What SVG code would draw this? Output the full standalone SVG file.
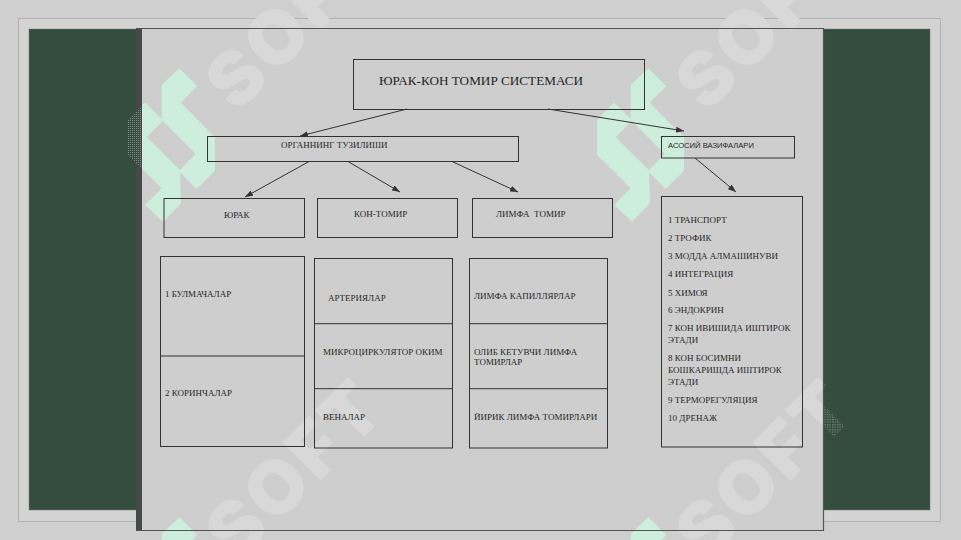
<svg xmlns="http://www.w3.org/2000/svg" width="961" height="540" viewBox="0 0 961 540">
<style>
.box{fill:none;stroke:#333;stroke-width:1}
.t{font-family:"Liberation Serif","Times New Roman",serif;font-size:9px;fill:#262626}
.s{font-family:"Liberation Sans",Arial,sans-serif;font-size:7.6px;fill:#262626}
.big{font-size:13.2px}
.wm{font-family:Inter,"Liberation Sans",sans-serif;font-weight:900;font-size:74px;letter-spacing:4px;fill:#d8d8d8}
.wmd{font-family:Inter,"Liberation Sans",sans-serif;font-weight:900;font-size:74px;letter-spacing:4px;fill:url(#dots2)}
.conn{fill:none;stroke:#333;stroke-width:1;marker-end:url(#arr)}
.logo{fill:#cdeedd;fill-rule:evenodd}
</style>
<defs>
<marker id="arr" viewBox="0 0 8 6" refX="8" refY="3" markerWidth="8" markerHeight="6" markerUnits="userSpaceOnUse" orient="auto"><path d="M0 0L8 3L0 6z" fill="#333"/></marker>
<pattern id="dots" width="2" height="2" patternUnits="userSpaceOnUse"><rect width="1" height="1" fill="#7d8c83"/></pattern>
<pattern id="dots2" width="2.500" height="2.500" patternUnits="userSpaceOnUse" patternTransform="rotate(45)"><rect width="1.200" height="1.200" fill="#7d8c83"/></pattern>
<clipPath id="light"><path clip-rule="evenodd" d="M0 0H961V540H0ZM29 29H142V510H29ZM823 29H930V510H823ZM136 510H142V530H136Z"/></clipPath>
<clipPath id="leftdark"><rect x="100" y="28" width="42" height="502"/></clipPath>
<clipPath id="rightdark"><rect x="823" y="29" width="107" height="481"/></clipPath>
<path id="lg" class="logo" d="M179.3 68.3L197.3 86L180.7 102.7L215 137.3V170.7L196.7 189L180 172.3L181 203.3L163.3 221.7L145 205L161.7 188.3L128 155V120L145 102.3L161.7 119V85ZM162.7 121L146.7 137.3L180 170L195.7 154Z"/>
</defs>
<rect width="961" height="540" fill="#cfcfcf"/>
<rect x="18.500" y="18.500" width="922" height="503" fill="#d3d3d3" stroke="#b2b2b2"/>
<rect x="29" y="29" width="901" height="481" fill="#354d3f" stroke="#6d7a72" stroke-width="0.5"/>
<rect x="136" y="28" width="6" height="503" fill="#454a47"/>
<rect x="142" y="28" width="681" height="502" fill="#cecece"/>
<g id="watermark">
<g clip-path="url(#light)">
<text class="wm" transform="translate(237 114) rotate(-45)">SOFT</text>
<text class="wm" transform="translate(707 114) rotate(-45)">SOFT</text>
<text class="wm" transform="translate(237 564) rotate(-45)">SOFT</text>
<text class="wm" transform="translate(707 564) rotate(-45)">SOFT</text>
<use href="#lg"/>
<use href="#lg" x="469"/>
<use href="#lg" y="449"/>
<use href="#lg" x="469" y="449"/>
</g>
<g clip-path="url(#leftdark)"><path d="M179.3 68.3L197.3 86L180.7 102.7L215 137.3V170.7L196.7 189L180 172.3L181 203.3L163.3 221.7L145 205L161.7 188.3L128 155V120L145 102.3L161.7 119V85ZM162.7 121L146.700 137.3L180 170L195.7 154Z" fill="url(#dots)" fill-rule="evenodd"/></g>
<g clip-path="url(#rightdark)"><text class="wmd" transform="translate(707 564) rotate(-45)">SOFT</text></g>
</g>
<path d="M136 28.500H823.500V530.500H136" fill="none" stroke="#4f5552" stroke-width="1.200"/>
<g id="connectors">
<path class="conn" d="M407 109L300 136"/>
<path class="conn" d="M548 109L684 131"/>
<path class="conn" d="M309 161.500L245 197"/>
<path class="conn" d="M348 161.500L400 192"/>
<path class="conn" d="M452 161.500L518 192"/>
<path class="conn" d="M695 158L736 192"/>
</g>
<g id="title"><rect class="box" x="353.500" y="59.500" width="291" height="50"/><text class="t big" x="379" y="85">ЮРАК-КОН ТОМИР СИСТЕМАСИ</text></g>
<g id="structure"><rect class="box" x="207.500" y="136.500" width="311" height="25"/><text class="t" x="281" y="148">ОРГАННИНГ ТУЗИЛИШИ</text></g>
<g id="functions"><rect class="box" x="661.500" y="136.500" width="133" height="21.500"/><text class="s" x="668" y="148">АСОСИЙ ВАЗИФАЛАРИ</text></g>
<g id="heart"><rect class="box" x="164" y="198.500" width="140.500" height="39"/><text class="t" x="224" y="217.500">ЮРАК</text></g>
<g id="vessel"><rect class="box" x="317.500" y="198.500" width="140" height="39"/><text class="t" x="354" y="217">КОН-ТОМИР</text></g>
<g id="lymph"><rect class="box" x="472.500" y="198.500" width="140" height="39"/><text class="t" x="496" y="217" xml:space="preserve">ЛИМФА  ТОМИР</text></g>
<g id="heart-parts"><rect class="box" x="160.500" y="256.500" width="144" height="190"/><path class="box" d="M160.500 356H304.500"/>
<text class="t" x="165" y="296.500">1 БУЛМАЧАЛАР</text><text class="t" x="165" y="396">2 КОРИНЧАЛАР</text></g>
<g id="vessel-parts"><rect class="box" x="314.500" y="258.500" width="138" height="189.500"/><path class="box" d="M314.500 323.700H452.500M314.500 388.700H452.500"/>
<text class="t" x="328" y="300.500">АРТЕРИЯЛАР</text><text class="t" x="323" y="355">МИКРОЦИРКУЛЯТОР ОКИМ</text><text class="t" x="323" y="419.500">ВЕНАЛАР</text></g>
<g id="lymph-parts"><rect class="box" x="469.500" y="258.500" width="138" height="189.500"/><path class="box" d="M469.500 323.700H607.500M469.500 388.700H607.500"/>
<text class="t" x="474" y="299">ЛИМФА КАПИЛЛЯРЛАР</text><text class="t" x="474" y="355">ОЛИБ КЕТУВЧИ ЛИМФА</text><text class="t" x="474" y="365">ТОМИРЛАР</text><text class="t" x="474" y="419.500">ЙИРИК ЛИМФА ТОМИРЛАРИ</text></g>
<g id="function-list"><rect class="box" x="661.500" y="196.500" width="141" height="250.500"/>
<text class="t" x="668" y="222.700">1 ТРАНСПОРТ</text>
<text class="t" x="668" y="240.700">2 ТРОФИК</text>
<text class="t" x="668" y="258.700">3 МОДДА АЛМАШИНУВИ</text>
<text class="t" x="668" y="276.700">4 ИНТЕГРАЦИЯ</text>
<text class="t" x="668" y="295.500">5 ХИМОЯ</text>
<text class="t" x="668" y="313.300">6 ЭНДОКРИН</text>
<text class="t" x="668" y="331.300">7 КОН ИВИШИДА ИШТИРОК</text>
<text class="t" x="668" y="343.300">ЭТАДИ</text>
<text class="t" x="668" y="361">8 КОН БОСИМНИ</text>
<text class="t" x="668" y="373">БОШКАРИШДА ИШТИРОК</text>
<text class="t" x="668" y="385">ЭТАДИ</text>
<text class="t" x="668" y="402.700">9 ТЕРМОРЕГУЛЯЦИЯ</text>
<text class="t" x="668" y="421">10 ДРЕНАЖ</text></g>
</svg>
